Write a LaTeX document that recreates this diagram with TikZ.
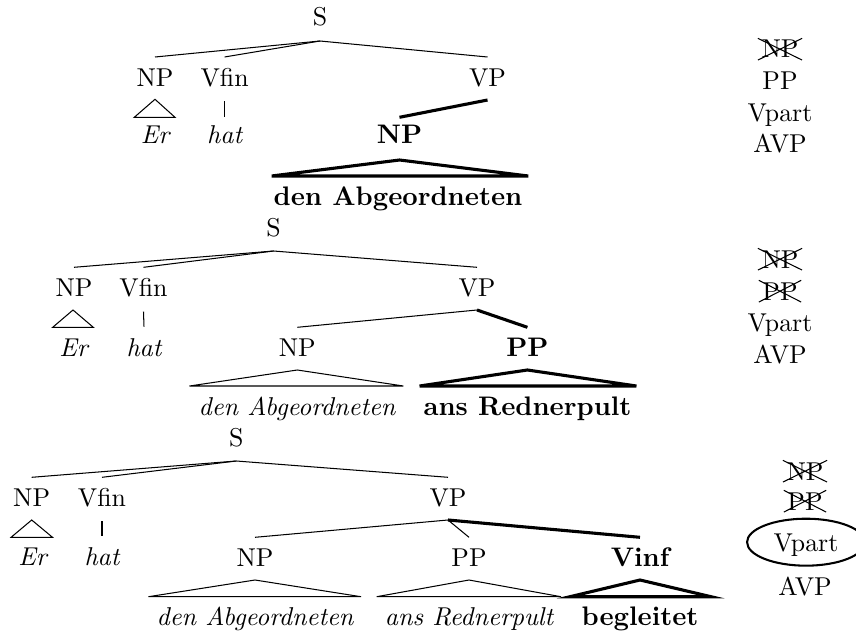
\documentclass[tikz,border=0pt]{standalone}
\usepackage{fontspec}
\usetikzlibrary{calc,shapes.geometric}
\tikzset{
  lbl/.style={anchor=base, inner sep=0pt},
  bflbl/.style={lbl, font=\fontsize{10.4}{12}\selectfont\bfseries},
  itlbl/.style={lbl, font=\itshape},
  edge/.style={line width=0.4pt},
  bedge/.style={line width=1.2pt},
  tri/.style={line width=0.4pt},
  btri/.style={line width=1.2pt},
  crossed/.style={anchor=base, inner xsep=1.2pt, inner ysep=0.6pt, text height=6.83pt, text depth=0pt},
  xline/.style={line width=0.4pt},
  circled/.style={ellipse, draw, line width=0.8pt, anchor=base, inner sep=0pt,
    minimum width=45.7pt, minimum height=18.2pt, text height=6.83pt, text depth=0pt},
}
\begin{document}
\begin{tikzpicture}[x=0.3876pt, y=-0.3876pt]
\useasboundingbox (0,0) rectangle (856,632);

% ---------------- Tree 1 ----------------
\node[lbl] (S1) at (320,25.5) {S};
\node[lbl] (NP1) at (155,86) {NP};
\node[lbl] (Vf1) at (224.6,86) {Vfin};
\node[lbl] (VP1) at (487.5,86) {VP};
\node[itlbl] (Er1) at (155,143.3) {Er};
\node[itlbl] (hat1) at (224.6,143.3) {hat};
\node[bflbl] (NPb1) at (399.5,143.3) {NP};
\node[bflbl] (dA1) at (398,205) {den Abgeordneten};

\draw[edge] ($(S1.base)+(0,15.5)$) -- ($(NP1.base)+(0,-29)$);
\draw[edge] ($(S1.base)+(0,15.5)$) -- ($(Vf1.base)+(0,-29)$);
\draw[edge] ($(S1.base)+(0,15.5)$) -- ($(VP1.base)+(0,-29)$);
\draw[edge] ($(Vf1.base)+(0,15)$) -- ($(hat1.base)+(0,-26.6)$);
\draw[bedge] ($(VP1.base)+(0,14)$) -- ($(NPb1.base)+(0,-26)$);
\draw[tri] (155,99.3) -- (134.3,117.3) -- (175,117.3) -- cycle;
\draw[btri] (399.5,160) -- (271.7,176) -- (528.3,176) -- cycle;

% ---------------- Tree 2 ----------------
\node[lbl] (S2) at (273.6,236.7) {S};
\node[lbl] (NP2) at (74,296) {NP};
\node[lbl] (Vf2) at (143.5,296) {Vfin};
\node[lbl] (VP2) at (477,296) {VP};
\node[itlbl] (Er2) at (73.5,356) {Er};
\node[itlbl] (hat2) at (144,356) {hat};
\node[lbl] (NPc2) at (297.3,356) {NP};
\node[bflbl] (PPb2) at (527.4,356) {PP};
\node[itlbl] (dA2) at (297,415) {den Abgeordneten};
\node[bflbl] (aR2) at (527.5,415) {ans Rednerpult};

\draw[edge] ($(S2.base)+(0,14.3)$) -- ($(NP2.base)+(0,-28.7)$);
\draw[edge] ($(S2.base)+(0,14.3)$) -- ($(Vf2.base)+(0,-28.7)$);
\draw[edge] ($(S2.base)+(0,14.3)$) -- ($(VP2.base)+(0,-28.7)$);
\draw[edge] ($(Vf2.base)+(0,15.7)$) -- ($(hat2.base)+(0,-29.3)$);
\draw[edge] ($(VP2.base)+(0,14)$) -- ($(NPc2.base)+(0,-28.7)$);
\draw[bedge] ($(VP2.base)+(0,14)$) -- ($(PPb2.base)+(0,-28.7)$);
\draw[tri] (73,310) -- (52.7,327.3) -- (93.3,327.3) -- cycle;
\draw[tri] (297.3,370) -- (189.5,386) -- (403.4,386) -- cycle;
\draw[btri] (527.4,370) -- (419.6,386) -- (636.4,386) -- cycle;

% ---------------- Tree 3 ----------------
\node[lbl] (S3) at (236.3,446.7) {S};
\node[lbl] (NP3) at (31.7,506) {NP};
\node[lbl] (Vf3) at (102,506) {Vfin};
\node[lbl] (VP3) at (448,506) {VP};
\node[itlbl] (Er3) at (32.5,565) {Er};
\node[itlbl] (hat3) at (102,565) {hat};
\node[lbl] (NPc3) at (255,566) {NP};
\node[lbl] (PPc3) at (469,566) {PP};
\node[bflbl] (Vi3) at (640,566) {Vinf};
\node[itlbl] (dA3) at (255,625) {den Abgeordneten};
\node[itlbl] (aR3) at (469,625) {ans Rednerpult};
\node[bflbl] (beg3) at (640,625) {begleitet};

\draw[edge] ($(S3.base)+(0,14.3)$) -- ($(NP3.base)+(0,-28.7)$);
\draw[edge] ($(S3.base)+(0,14.3)$) -- ($(Vf3.base)+(0,-28.7)$);
\draw[edge] ($(S3.base)+(0,14.3)$) -- ($(VP3.base)+(0,-28.7)$);
\draw[edge] ($(Vf3.base)+(0,15)$) -- ($(hat3.base)+(0,-29)$);
\draw[edge] ($(VP3.base)+(0,14)$) -- ($(NPc3.base)+(0,-28.7)$);
\draw[edge] ($(VP3.base)+(0,14)$) -- ($(PPc3.base)+(0,-28.7)$);
\draw[bedge] ($(VP3.base)+(0,14)$) -- ($(Vi3.base)+(0,-28.7)$);
\draw[tri] (31.7,520) -- (11.1,537.3) -- (52.5,537.3) -- cycle;
\draw[tri] (255,580) -- (148.5,596.7) -- (361,596.7) -- cycle;
\draw[tri] (469,580) -- (376.7,596.7) -- (561,596.7) -- cycle;
\draw[btri] (640,580) -- (570,596.7) -- (711,596.7) -- cycle;

% ---------------- Right column ----------------
\node[crossed] (c1a) at (780,58) {NP};
\node[lbl] (c1b) at (780,90) {PP};
\node[lbl] (c1c) at (780,121) {Vpart};
\node[lbl] (c1d) at (780,152) {AVP};
\draw[xline] (c1a.south west) -- (c1a.north east) (c1a.north west) -- (c1a.south east);

\node[crossed] (c2a) at (780,268) {NP};
\node[crossed] (c2b) at (780,300) {PP};
\node[lbl] (c2c) at (780,331) {Vpart};
\node[lbl] (c2d) at (780,363) {AVP};
\draw[xline] (c2a.south west) -- (c2a.north east) (c2a.north west) -- (c2a.south east);
\draw[xline] (c2b.south west) -- (c2b.north east) (c2b.north west) -- (c2b.south east);

\node[crossed] (c3a) at (805,480) {NP};
\node[crossed] (c3b) at (805,510) {PP};
\node[circled] (c3c) at (806,551) {Vpart};
\node[lbl] (c3d) at (805,595) {AVP};
\draw[xline] (c3a.south west) -- (c3a.north east) (c3a.north west) -- (c3a.south east);
\draw[xline] (c3b.south west) -- (c3b.north east) (c3b.north west) -- (c3b.south east);
\end{tikzpicture}
\end{document}
